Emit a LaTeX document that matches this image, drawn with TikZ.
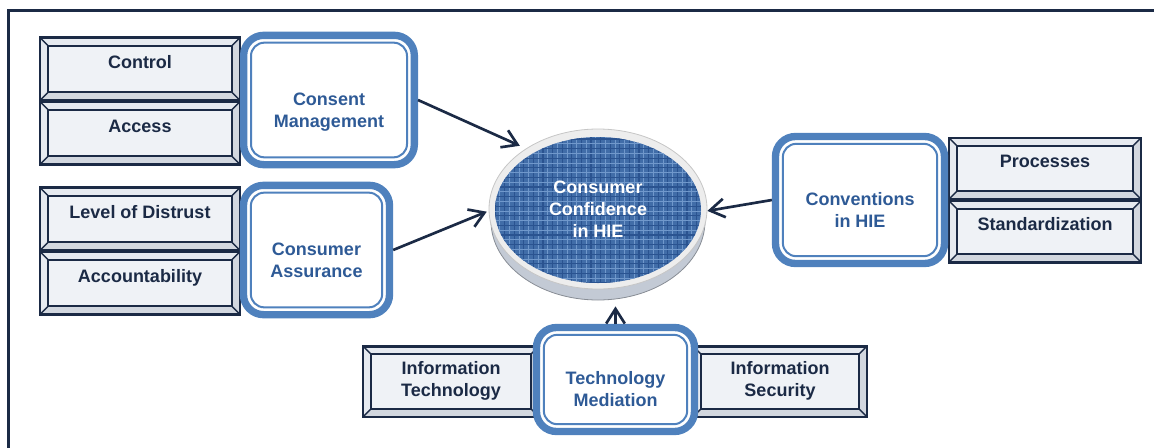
\documentclass[tikz,border=0pt]{standalone}
\usepackage{fontspec}
\setmainfont{Liberation Sans}
\usetikzlibrary{shapes.geometric,arrows.meta}
\definecolor{navy}{HTML}{1B2A45}
\definecolor{blueone}{HTML}{4F81BD}
\definecolor{bluetext}{HTML}{2E5A96}
\definecolor{facecol}{HTML}{E6EAF0}
\definecolor{innercol}{HTML}{EFF2F6}
\definecolor{ellblue}{HTML}{416DA8}
\definecolor{gridblue}{HTML}{2A5390}
\definecolor{gridlight}{HTML}{7098CB}
\definecolor{rimcol}{HTML}{EDEDED}
\definecolor{sidecol}{HTML}{C3CAD5}
\begin{document}
\begin{tikzpicture}[x=0.75pt,y=-0.75pt,
  txt/.style={font=\fontsize{13.5}{16.5}\selectfont\bfseries},
  bevel/.style={txt, draw=navy, line width=2pt, fill=facecol, text=navy, inner sep=0pt,
    path picture={
      \coordinate (@sw) at (path picture bounding box.south west);
      \coordinate (@ne) at (path picture bounding box.north east);
      \coordinate (@nw) at (path picture bounding box.north west);
      \coordinate (@se) at (path picture bounding box.south east);
      \fill[facecol!90!navy] ([shift={(6pt,6pt)}]@sw) -- (@sw) -- (@se) -- (@ne) -- ([shift={(-6pt,-6pt)}]@ne) -- ([shift={(-6pt,6pt)}]@se) -- cycle;
      \draw[navy, line width=1.5pt, fill=innercol] ([shift={(6pt,6pt)}]@sw) rectangle ([shift={(-6pt,-6pt)}]@ne);
      \draw[navy, line width=1pt] (@sw) -- ([shift={(6pt,6pt)}]@sw)
        (@ne) -- ([shift={(-6pt,-6pt)}]@ne)
        (@nw) -- ([shift={(6pt,-6pt)}]@nw)
        (@se) -- ([shift={(-6pt,6pt)}]@se);
    }},
  rbox/.style={txt, draw=blueone, line width=5.5pt, rounded corners=15pt, fill=white, text=bluetext, inner sep=0pt,
    path picture={
      \draw[blueone, line width=1.5pt, rounded corners=10pt]
        ([shift={(5.5pt,5.5pt)}]path picture bounding box.south west) rectangle
        ([shift={(-5.5pt,-5.5pt)}]path picture bounding box.north east);
    }},
  arr/.style={navy, line width=2pt, -{Straight Barb[length=11pt,width=14pt,line width=2pt]}}
]
\newcommand\onel[1]{\raisebox{0.6pt}[0pt][0pt]{#1}}
\newcommand\twol[2]{\raisebox{-12.4pt}[0pt][0pt]{\begin{tabular}{@{}c@{}}#1\\#2\end{tabular}}}
\newcommand\twoc[2]{\raisebox{-3.4pt}[0pt][0pt]{\begin{tabular}{@{}c@{}}#1\\#2\end{tabular}}}
\useasboundingbox (0,0) rectangle (1154,447);
\draw[navy, line width=2.25pt] (8.5,470) -- (8.5,10.5) -- (1180,10.5);

% central ellipse
\node[ellipse, draw=sidecol!70!black, line width=0.6pt, fill=sidecol, minimum width=160.5pt, minimum height=118.5pt, inner sep=0pt] (side) at (598,221) {};
\node[ellipse, draw=gray!45, line width=0.6pt, fill=rimcol, minimum width=163.5pt, minimum height=120pt, inner sep=0pt] (rim) at (598,209) {};
\node[ellipse, fill=ellblue, minimum width=154.5pt, minimum height=109.5pt, inner sep=0pt, text=white, txt,
  path picture={
    \foreach \k in {0,...,22}{
      \draw[gridblue, line width=1pt] ([xshift=\k*7.2pt]path picture bounding box.south west) -- ([xshift=\k*7.2pt]path picture bounding box.north west);
      \draw[gridlight, line width=0.5pt] ([xshift=\k*7.2pt+3.6pt]path picture bounding box.south west) -- ([xshift=\k*7.2pt+3.6pt]path picture bounding box.north west);
    }
    \foreach \k in {0,...,16}{
      \draw[gridblue, line width=1pt] ([yshift=\k*7.2pt]path picture bounding box.south west) -- ([yshift=\k*7.2pt]path picture bounding box.south east);
      \draw[gridlight, line width=0.5pt] ([yshift=\k*7.2pt+3.6pt]path picture bounding box.south west) -- ([yshift=\k*7.2pt+3.6pt]path picture bounding box.south east);
    }
  }] (cc) at (598,210) {\raisebox{-4.2pt}[0pt][0pt]{\begin{tabular}{@{}c@{}}Consumer\\Confidence\\in HIE\end{tabular}}};

% bevel boxes
\node[bevel, minimum width=150pt, minimum height=47pt] (control) at (140,69) {\onel{Control}};
\node[bevel, minimum width=150pt, minimum height=47pt] (access) at (140,133) {\onel{Access}};
\node[bevel, minimum width=150pt, minimum height=47pt] (distrust) at (140,219) {\onel{Level of Distrust}};
\node[bevel, minimum width=150pt, minimum height=47pt] (account) at (140,283) {\onel{Accountability}};
\node[bevel, minimum width=144pt, minimum height=46pt] (process) at (1045,168.5) {\onel{Processes}};
\node[bevel, minimum width=144pt, minimum height=46pt] (standard) at (1045,231.5) {\onel{Standardization}};
\node[bevel, minimum width=132pt, minimum height=53pt] (infotech) at (451,381.5) {\twoc{Information}{Technology}};
\node[bevel, minimum width=130.5pt, minimum height=53pt] (infosec) at (780,381.5) {\twoc{Information}{Security}};

% rounded boxes
\node[rbox, minimum width=128pt, minimum height=97pt] (cm) at (329,100) {\twol{Consent}{Management}};
\node[rbox, minimum width=109.5pt, minimum height=97pt] (ca) at (316.5,250) {\twol{Consumer}{Assurance}};
\node[rbox, minimum width=126.75pt, minimum height=95.25pt] (cv) at (860,200) {\twol{Conventions}{in HIE}};
\node[rbox, minimum width=118.5pt, minimum height=78pt] (tm) at (615.5,379.5) {\twol{Technology}{Mediation}};

% arrows
\draw[arr, shorten >=5pt] (cm.east) -- (rim.140);
\draw[arr, shorten >=1.5pt] (ca.east) -- (rim.181);
\draw[arr] (cv.west) -- (rim.359);
\draw[arr, shorten >=4.5pt] (tm.north) -- (tm.north |- side.south);
\end{tikzpicture}
\end{document}
